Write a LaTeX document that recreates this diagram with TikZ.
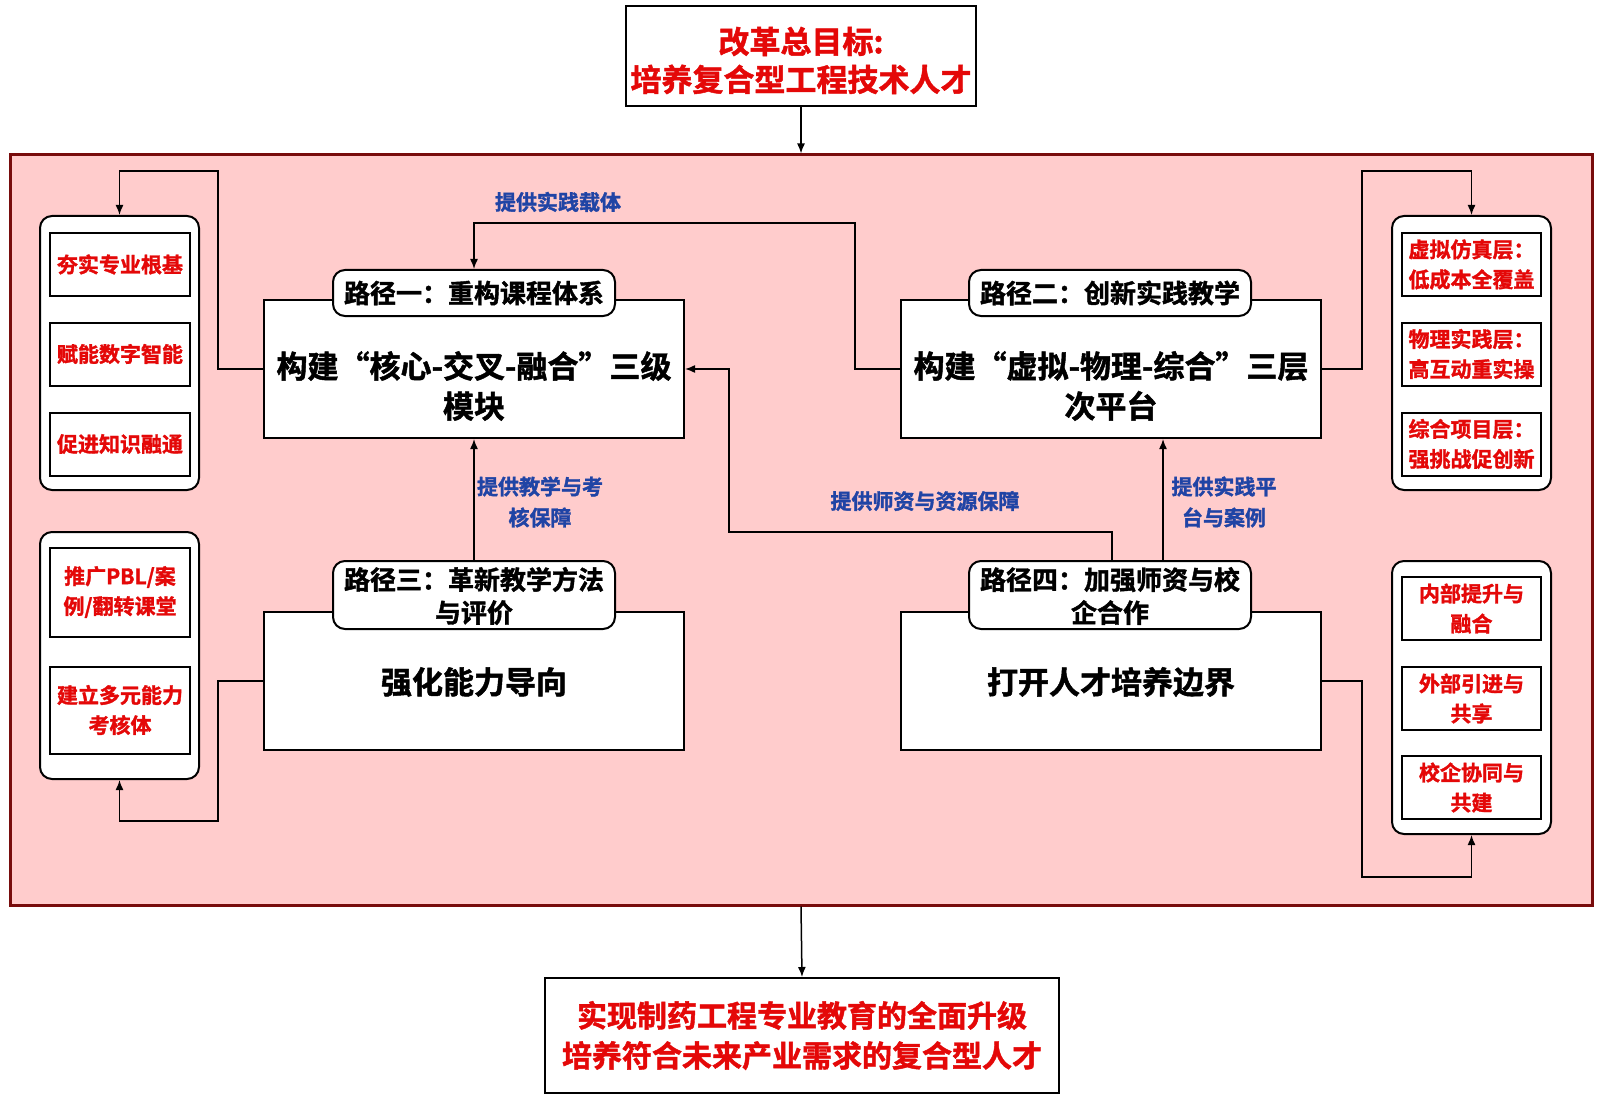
\documentclass[tikz,border=0pt]{standalone}
\usepackage{fontspec}
\setmainfont{Noto Sans CJK SC}[BoldFont={* Bold}, BoldFeatures={FakeBold=1.5}]
\usetikzlibrary{arrows.meta}
\definecolor{pinkbg}{RGB}{255,204,204}
\definecolor{framered}{RGB}{120,12,12}
\definecolor{txtred}{RGB}{228,8,8}
\definecolor{txtblue}{RGB}{32,68,165}
\tikzset{
  fnt/.style 2 args={font=\fontsize{#1pt}{#2pt}\selectfont\bfseries},
  box/.style={draw=black, fill=white, line width=2pt, inner sep=0pt, align=center},
  bigbox/.style={box, minimum width=420pt, minimum height=138pt},
  bigtxt/.style={align=center, inner sep=0pt, fnt={31}{40}},
  tabbox/.style={box, rounded corners=12pt, minimum width=282pt, fnt={26}{33}},
  grp/.style={draw=black, fill=white, line width=2pt, rounded corners=12pt, inner sep=0pt, minimum width=159pt},
  item/.style={box, text=txtred, minimum width=140pt, fnt={21}{30}},
  lbl/.style={text=txtblue, align=center, inner sep=0pt, fnt={21}{31}},
  conn/.style={-{Latex[length=10pt,width=8pt]}, line width=1.5pt},
}
\begin{document}
\begin{tikzpicture}[x=1pt,y=-1pt]
\useasboundingbox[fill=white] (0,0) rectangle (1600,1099);
% frame
\node[draw=framered, fill=pinkbg, line width=3pt, minimum width=1582pt, minimum height=750pt, inner sep=0pt] (frame) at (801,530) {};
% top and bottom
\node[box, text=txtred, minimum width=350pt, minimum height=100pt] (top) at (801,56.5) {};
\node[text=txtred, align=center, inner sep=0pt, fnt={31}{38}] (toptxt) at (801,60.5) {改革总目标:\\培养复合型工程技术人才};
\node[box, text=txtred, minimum width=514pt, minimum height=115pt, fnt={30}{40}] (bottom) at (802,1035.5) {实现制药工程专业教育的全面升级\\培养符合未来产业需求的复合型人才};
\draw[conn] (top.south) -- (frame.north);
\draw[conn] (frame.south) -- (bottom.north);
% main boxes
\node[bigbox] (box1) at (474,369) {};
\node[bigtxt] (box1t) at (474,386) {构建“核心-交叉-融合”三级\\模块};
\node[tabbox, minimum height=46pt] (tab1) at (474,293) {路径一：重构课程体系};
\node[bigbox] (box2) at (1111,369) {};
\node[bigtxt] (box2t) at (1111,386) {构建“虚拟-物理-综合”三层\\次平台};
\node[tabbox, minimum height=46pt] (tab2) at (1110,293) {路径二：创新实践教学};
\node[bigbox] (box3) at (474,681) {};
\node[bigtxt] (box3t) at (474,682) {强化能力导向};
\node[tabbox, minimum height=68pt] (tab3) at (474,595) {};
\node[align=center, inner sep=0pt, fnt={26}{33}] (tab3t) at (474,596) {路径三：革新教学方法\\与评价};
\node[bigbox] (box4) at (1111,681) {};
\node[bigtxt] (box4t) at (1111,682) {打开人才培养边界};
\node[tabbox, minimum height=68pt] (tab4) at (1110,595) {};
\node[align=center, inner sep=0pt, fnt={26}{33}] (tab4t) at (1110,596) {路径四：加强师资与校\\企合作};
% side groups
\node[grp, minimum height=274pt] (lg1) at (119.5,353) {};
\node[item, minimum height=63pt] (l11) at (120,264.5) {夯实专业根基};
\node[item, minimum height=63pt] (l12) at (120,354) {赋能数字智能};
\node[item, minimum height=63pt] (l13) at (120,444) {促进知识融通};
\node[grp, minimum height=247pt] (lg2) at (119.5,655.5) {};
\node[item, minimum height=89pt] (l21) at (120,592) {推广PBL/案\\例/翻转课堂};
\node[item, minimum height=87pt] (l22) at (120,710) {建立多元能力\\考核体};
\node[grp, minimum height=274pt] (rg1) at (1471.5,353) {};
\node[item, minimum width=139pt, minimum height=63pt] (r11) at (1471.5,264.5) {虚拟仿真层：\\低成本全覆盖};
\node[item, minimum width=139pt, minimum height=63pt] (r12) at (1471.5,354) {物理实践层：\\高互动重实操};
\node[item, minimum width=139pt, minimum height=63pt] (r13) at (1471.5,444) {综合项目层：\\强挑战促创新};
\node[grp, minimum height=273pt] (rg2) at (1471.5,697.5) {};
\node[item, minimum width=139pt, minimum height=63pt] (r21) at (1471.5,608.5) {内部提升与\\融合};
\node[item, minimum width=139pt, minimum height=63pt] (r22) at (1471.5,698.5) {外部引进与\\共享};
\node[item, minimum width=139pt, minimum height=63pt] (r23) at (1471.5,787.5) {校企协同与\\共建};
% connectors to side groups
\draw[conn] (box1.west) -- ++(-45,0) |- ([yshift=44pt]lg1.north) -- (lg1.north);
\draw[conn] (box2.east) -- ++(40,0) |- ([yshift=44pt]rg1.north) -- (rg1.north);
\draw[conn] (box3.west) -- ++(-45,0) |- ([yshift=-41pt]lg2.south) -- (lg2.south);
\draw[conn] (box4.east) -- ++(40,0) |- ([yshift=-42pt]rg2.south) -- (rg2.south);
% inter-path connectors
\draw[conn] (box2.west) -- ++(-45,0) |- ([yshift=46pt]tab1.north) -- (tab1.north);
\draw[conn] (tab3.north) -- (box1.south);
\coordinate (p4a) at ([xshift=2pt]tab4.north);
\coordinate (p4b) at ([xshift=53pt]tab4.north);
\draw[conn] (p4a) -- ++(0,-28) -| ([xshift=44pt]box1.east) -- (box1.east);
\draw[conn] (p4b) -- (p4b |- box2.south);
% labels
\node[lbl] (t1) at (558,202) {提供实践载体};
\node[lbl] (t2) at (540,502) {提供教学与考\\核保障};
\node[lbl] (t3) at (925,501) {提供师资与资源保障};
\node[lbl] (t4) at (1224,502) {提供实践平\\台与案例};
\end{tikzpicture}
\end{document}
